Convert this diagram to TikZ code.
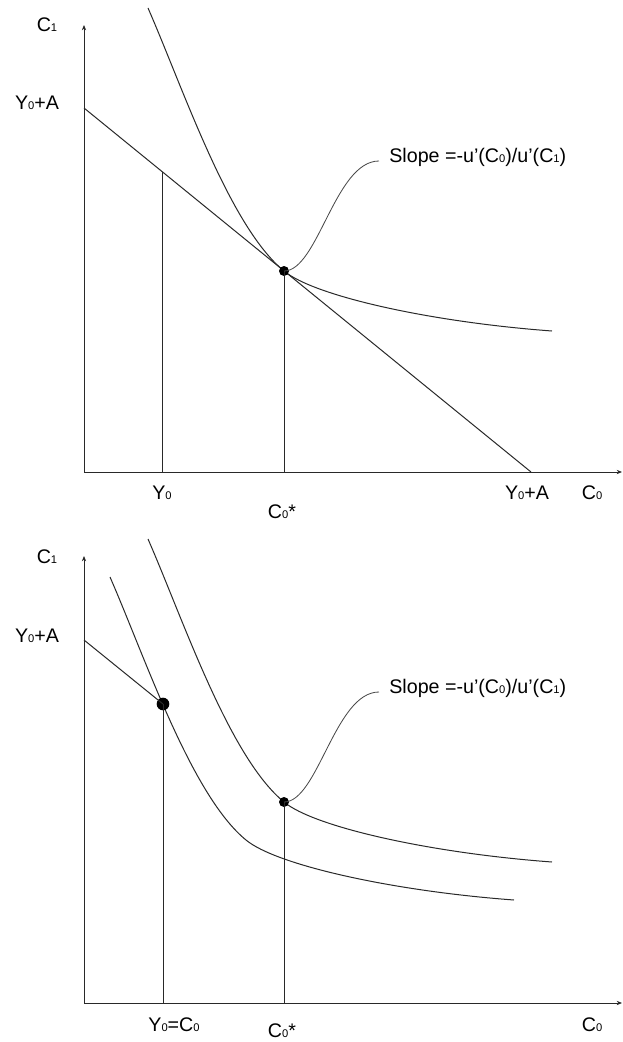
\documentclass[tikz,border=0pt]{standalone}
\usepackage{fontspec}
\setmainfont{Liberation Sans}
\usetikzlibrary{arrows.meta}
\newcommand{\lo}[1]{{\fontsize{6.7pt}{7pt}\selectfont #1}}
\begin{document}
\begin{tikzpicture}[x=0.6pt, y=-0.6pt, ink/.style={line width=0.6pt, icInk}, axis/.style={line width=0.6pt, icInk, -{Stealth[length=3.2pt, width=2.6pt]}}, pointer/.style={line width=0.5pt, icInk!85}, dot/.style={circle, fill=black, inner sep=0pt, minimum size=6pt}, lbl/.style={font=\fontsize{11.8pt}{13pt}\selectfont, text=black, inner sep=0pt}]
\definecolor{icInk}{rgb}{0.16,0.16,0.16}
\useasboundingbox (0,0) rectangle (622,1042);
% top panel: budget line tangent to the indifference curve
\coordinate (o1) at (84,472);
\coordinate (ytop1) at (84,25);
\coordinate (xend1) at (622,472);
\coordinate (b1) at (84,108);
\coordinate (bx1) at (531,472);
\coordinate (y1) at (162,171.5);
\coordinate (y1a) at (162,472);
\coordinate (c1a) at (284,472);
\coordinate (tip1) at (379,161);
\draw[axis] (o1) -- (ytop1);
\draw[axis] (o1) -- (xend1);
\draw[ink] (b1) -- (bx1);
\draw[ink] (y1) -- (y1a);
\draw[ink] (148,8) .. controls (183,88) and (229,226) .. (284,271) .. controls (314,296) and (430,322) .. (552,331);
\node[dot] (e1) at (284,271) {};
\draw[ink] (e1.center) -- (c1a);
\draw[pointer] (e1.center) .. controls (318,271) and (335,161) .. (tip1);
\node[lbl] (cy1) at (47,25) {C\lo{1}};
\node[lbl] (ya1) at (37,103) {Y\lo{0}+A};
\node[lbl] (y0x1) at (162,493) {Y\lo{0}};
\node[lbl] (cs1) at (282,512) {C\lo{0}*};
\node[lbl] (yax1) at (527,493) {Y\lo{0}+A};
\node[lbl] (cx1) at (592,493) {C\lo{0}};
\node[lbl, anchor=west] (sl1) at (389,157) {Slope =-u'(C\lo{0})/u'(C\lo{1})};
% bottom panel: endowment point and the higher curve
\coordinate (o2) at (84,1003);
\coordinate (ytop2) at (84,556);
\coordinate (xend2) at (622,1003);
\coordinate (b2) at (84,640);
\coordinate (y2a) at (163,1003);
\coordinate (c2a) at (284,1003);
\coordinate (tip2) at (379,692);
\draw[axis] (o2) -- (ytop2);
\draw[axis] (o2) -- (xend2);
\draw[ink] (148,539) .. controls (183,619) and (229,757) .. (284,802) .. controls (314,827) and (430,853) .. (552,862);
\draw[ink] (110,577) .. controls (145,657) and (191,795) .. (246,840) .. controls (276,865) and (392,891) .. (514,900);
\node[dot, minimum size=7.6pt] (e2) at (163,704) {};
\node[dot] (s2) at (284,802) {};
\draw[ink] (b2) -- (e2.center);
\draw[ink] (e2.center) -- (y2a);
\draw[ink] (s2.center) -- (c2a);
\draw[pointer] (s2.center) .. controls (318,802) and (335,692) .. (tip2);
\node[lbl] (cy2) at (47,557) {C\lo{1}};
\node[lbl] (ya2) at (37,636) {Y\lo{0}+A};
\node[lbl] (y0x2) at (174,1025) {Y\lo{0}=C\lo{0}};
\node[lbl] (cs2) at (282,1031) {C\lo{0}*};
\node[lbl] (cx2) at (592,1025) {C\lo{0}};
\node[lbl, anchor=west] (sl2) at (389,688) {Slope =-u'(C\lo{0})/u'(C\lo{1})};
\end{tikzpicture}
\end{document}
